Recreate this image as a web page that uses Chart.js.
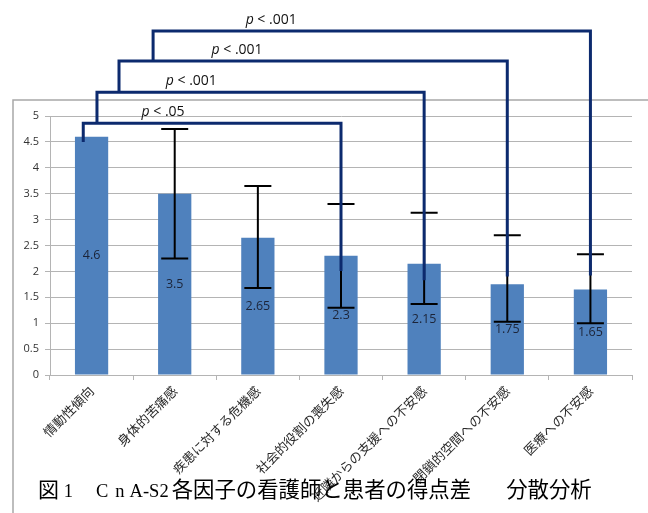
<!DOCTYPE html>
<html>
<head>
<meta charset="utf-8">
<script src="https://cdn.jsdelivr.net/npm/chart.js@4/dist/chart.umd.min.js"></script>
<style>
  html, body { margin: 0; padding: 0; background: #ffffff; }
  #wrap { position: relative; width: 648px; height: 513px; overflow: hidden; }
  #c { position: absolute; left: 0; top: 0; }
  #caption {
    position: absolute; left: 38px; top: 477px; white-space: nowrap;
    font-size: 21px; line-height: 21px; color: #000;
    font-family: "Noto Sans CJK JP", sans-serif;
  }
  #caption .m { font-family: "Liberation Serif", "DejaVu Serif", serif; font-size: 18.5px; }
  #caption .c1 { letter-spacing: 7px; }
  #caption .c2 { letter-spacing: 5px; }
  #caption .jp { font-size: 21.4px; margin-left: 3px; }
  #caption .tail { margin-left: 35px; }
</style>
</head>
<body>
<div id="wrap">
  <canvas id="c" width="648" height="513"></canvas>
  <div id="caption"><span>図</span><span class="m">&nbsp;1&nbsp;&nbsp;&nbsp;&nbsp;&nbsp;</span><span class="m c1">C</span><span class="m c2">n</span><span class="m">A-S2</span><span class="jp">各因子の看護師と患者の得点差</span><span class="jp tail">分散分析</span></div>
</div>
<script>
// Factor names (x axis)
const categories = [
  '情動性傾向',
  '身体的苦痛感',
  '疾患に対する危機感',
  '社会的役割の喪失感',
  '近隣からの支援への不安感',
  '閉鎖的空間への不安感',
  '医療への不安感'
];
// Score difference per factor
const scoreDiff = [4.6, 3.5, 2.65, 2.3, 2.15, 1.75, 1.65];
// Error bar ends (upper / lower); first factor has none
const errUpper = [null, 4.75, 3.65, 3.3, 3.13, 2.7, 2.33];
const errLower = [null, 2.25, 1.68, 1.3, 1.37, 1.03, 1.0];
// Y axis ticks
const yTicks = [0, 0.5, 1, 1.5, 2, 2.5, 3, 3.5, 4, 4.5, 5];
// Significance brackets: factor 0 compared with these factors
const compareFrom = [0, 0, 0, 0];
const compareTo = [3, 4, 5, 6];
const pLabels = ['< .05', '< .001', '< .001', '< .001'];

// Bracket placement in axis units (x: category offset, y: value)
const bracketLayout = [
  { dx: -0.10, top: 4.86, leftEnd: 4.50, rightEnd: 2.01, labelAt: 0.86 },
  { dx: 0.065, top: 5.46, leftEnd: 4.86, rightEnd: 1.83, labelAt: 1.20 },
  { dx: 0.33, top: 6.06, leftEnd: 5.46, rightEnd: 1.90, labelAt: 1.75 },
  { dx: 0.74, top: 6.64, leftEnd: 6.06, rightEnd: 1.92, labelAt: 2.16 }
];

const GRID = '#b4b4b4';

// Outer frame of the figure
const framePlugin = {
  id: 'frame',
  beforeDraw(chart) {
    const ctx = chart.ctx;
    ctx.save();
    ctx.fillStyle = '#ffffff';
    ctx.fillRect(0, 0, chart.width, chart.height);
    ctx.strokeStyle = '#a8a8a8';
    ctx.lineWidth = 1.5;
    ctx.beginPath();
    ctx.moveTo(13, chart.height);
    ctx.lineTo(13, 100);
    ctx.lineTo(chart.width, 100);
    ctx.stroke();
    ctx.restore();
  }
};

// Value labels in the middle of each bar, error bars, and significance brackets
const overlayPlugin = {
  id: 'overlay',
  afterDatasetsDraw(chart) {
    const ctx = chart.ctx;
    const xs = chart.scales.x, ys = chart.scales.y;
    const meta = chart.getDatasetMeta(0);
    ctx.save();

    // value labels
    ctx.fillStyle = '#1c2438';
    ctx.font = '12.5px "Open Sans", sans-serif';
    ctx.textAlign = 'center';
    ctx.textBaseline = 'middle';
    scoreDiff.forEach((v, i) => {
      const bar = meta.data[i];
      ctx.fillText(String(v), bar.x, ys.getPixelForValue(v / 2));
    });

    // error bars
    ctx.strokeStyle = '#000000';
    ctx.lineWidth = 2;
    const cap = 13.5;
    errUpper.forEach((hi, i) => {
      const lo = errLower[i];
      if (hi == null || lo == null) return;
      const x = meta.data[i].x;
      const yh = ys.getPixelForValue(hi), yl = ys.getPixelForValue(lo);
      ctx.beginPath();
      ctx.moveTo(x, yh); ctx.lineTo(x, yl);
      ctx.moveTo(x - cap, yh); ctx.lineTo(x + cap, yh);
      ctx.moveTo(x - cap, yl); ctx.lineTo(x + cap, yl);
      ctx.stroke();
    });

    // significance brackets
    ctx.strokeStyle = '#0c2a6e';
    ctx.lineWidth = 3;
    ctx.lineJoin = 'miter';
    ctx.lineCap = 'butt';
    compareTo.forEach((to, k) => {
      const L = bracketLayout[k];
      const xl = xs.getPixelForValue(compareFrom[k] + L.dx);
      const xr = xs.getPixelForValue(to);
      const yt = ys.getPixelForValue(L.top);
      ctx.beginPath();
      ctx.moveTo(xl, ys.getPixelForValue(L.leftEnd));
      ctx.lineTo(xl, yt);
      ctx.lineTo(xr, yt);
      ctx.lineTo(xr, ys.getPixelForValue(L.rightEnd));
      ctx.stroke();

      // "p < .xx" label with italic p
      const cx = xs.getPixelForValue(L.labelAt);
      const cy = yt - 11;
      const pFont = 'italic 14px "Open Sans", sans-serif';
      const rFont = '14px "Open Sans", sans-serif';
      ctx.font = pFont;
      const wp = ctx.measureText('p ').width;
      ctx.font = rFont;
      const wr = ctx.measureText(pLabels[k]).width;
      let x0 = cx - (wp + wr) / 2;
      ctx.fillStyle = '#111111';
      ctx.textAlign = 'left';
      ctx.textBaseline = 'middle';
      ctx.font = pFont;
      ctx.fillText('p', x0, cy);
      ctx.font = rFont;
      ctx.fillText(pLabels[k], x0 + wp, cy);
    });
    ctx.restore();
  }
};

new Chart(document.getElementById('c'), {
  type: 'bar',
  data: {
    labels: categories,
    datasets: [{
      data: scoreDiff,
      backgroundColor: '#4f81bd',
      borderWidth: 0,
      categoryPercentage: 1.0,
      barPercentage: 0.4
    }]
  },
  options: {
    responsive: false,
    devicePixelRatio: 1,
    animation: false,
    layout: { padding: { top: 116, right: 16, bottom: 0, left: 0 } },
    plugins: { legend: { display: false }, tooltip: { enabled: false }, title: { display: false } },
    scales: {
      x: {
        grid: { display: true, drawOnChartArea: false, drawTicks: true, tickLength: 5, color: GRID, offset: true },
        border: { display: true, color: GRID, width: 1 },
        ticks: {
          autoSkip: false, minRotation: 45, maxRotation: 45, padding: 3,
          color: '#2a2a2a',
          font: { family: '"Noto Sans CJK JP", sans-serif', size: 13 }
        },
        afterFit(scale) { scale.height = 138; }
      },
      y: {
        min: 0, max: 5,
        afterBuildTicks(scale) { scale.ticks = yTicks.map(v => ({ value: v })); },
        grid: { color: GRID, tickLength: 5, drawTicks: true },
        border: { display: true, color: GRID, width: 1 },
        ticks: {
          padding: 6, color: '#333333',
          font: { family: '"Open Sans", sans-serif', size: 11 },
          callback: (v) => String(v)
        },
        afterFit(scale) { scale.width = 50; }
      }
    }
  },
  plugins: [framePlugin, overlayPlugin]
});
</script>
</body>
</html>
